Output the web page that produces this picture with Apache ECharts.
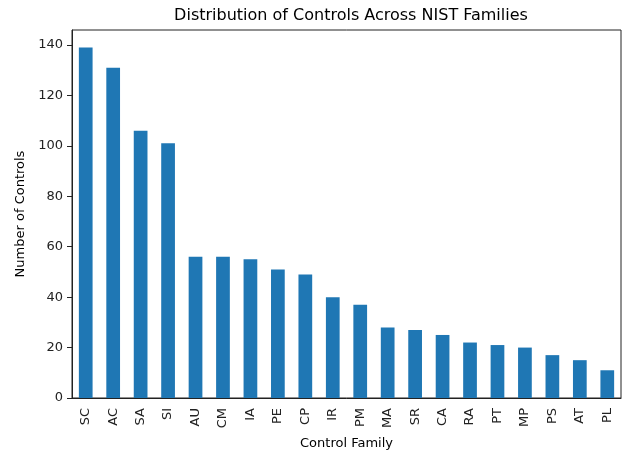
<!DOCTYPE html>
<html>
<head>
    <meta charset="utf-8">
    <title>Distribution of Controls Across NIST Families</title>
    <script src="https://cdn.jsdelivr.net/npm/echarts@6/dist/echarts.min.js"></script>
    <style>
        html, body { margin: 0; padding: 0; background: #fff; }
        #main { width: 627px; height: 455px; }
    </style>
</head>
<body>
    <div id="main"></div>
    <script>
        // control families, sorted by count
        var families = ['SC', 'AC', 'SA', 'SI', 'AU', 'CM', 'IA', 'PE', 'CP', 'IR',
                        'PM', 'MA', 'SR', 'CA', 'RA', 'PT', 'MP', 'PS', 'AT', 'PL'];
        var counts = [139, 131, 106, 101, 56, 56, 55, 51, 49, 40,
                      37, 28, 27, 25, 22, 21, 20, 17, 15, 11];
        var yTicks = [0, 20, 40, 60, 80, 100, 120, 140];

        var font = 'DejaVu Sans';
        var myChart = echarts.init(document.getElementById('main'));

        var option = {
            backgroundColor: '#fff',
            animation: false,
            title: {
                text: 'Distribution of Controls Across NIST Families',
                left: 346,
                textAlign: 'center',
                top: 3,
                textStyle: { fontFamily: font, fontSize: 16, fontWeight: 'normal', color: '#000' }
            },
            grid: {
                left: 72,
                right: 6,
                top: 30,
                bottom: 51,
                show: true,
                borderColor: '#222',
                borderWidth: 1,
                backgroundColor: 'transparent'
            },
            xAxis: {
                type: 'category',
                data: families,
                name: 'Control Family',
                nameLocation: 'middle',
                nameGap: 39,
                nameTextStyle: { fontFamily: font, fontSize: 13, color: '#000' },
                axisLine: { lineStyle: { color: '#222', width: 1 } },
                axisTick: { alignWithLabel: true, length: 5, lineStyle: { color: '#222' } },
                axisLabel: { rotate: 90, margin: 10, fontFamily: font, fontSize: 13, color: '#222' }
            },
            yAxis: {
                type: 'value',
                min: 0,
                max: 145.95,
                name: 'Number of Controls',
                nameLocation: 'middle',
                nameGap: 44,
                nameTextStyle: { fontFamily: font, fontSize: 13, color: '#000' },
                axisLine: { show: true, lineStyle: { color: '#222', width: 1 } },
                axisTick: { show: true, length: 5, customValues: yTicks, lineStyle: { color: '#222' } },
                axisLabel: { margin: 9, customValues: yTicks, fontFamily: font, fontSize: 13, color: '#222' },
                splitLine: { show: false }
            },
            series: [{
                type: 'bar',
                data: counts,
                barWidth: '50%',
                itemStyle: { color: '#1f77b4' }
            }]
        };

        myChart.setOption(option);
    </script>
</body>
</html>
